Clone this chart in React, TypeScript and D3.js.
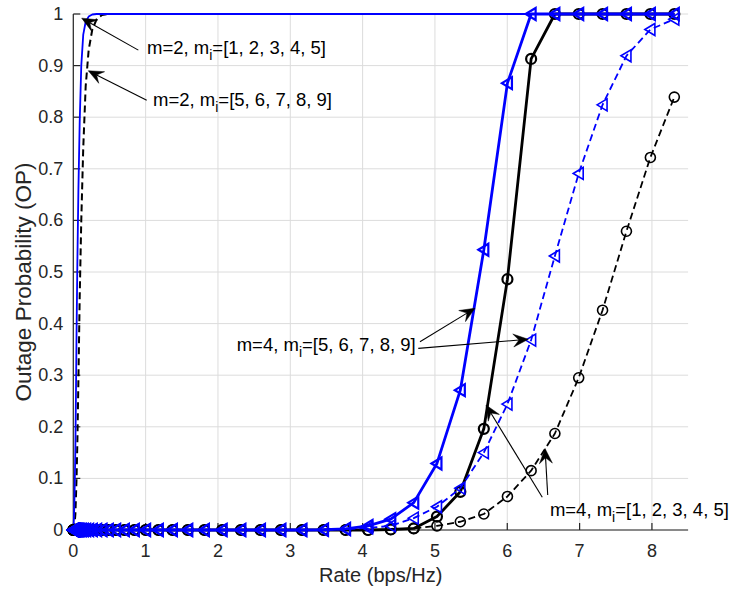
import React from 'react';
import * as d3 from 'd3';

// Rate grid (bps/Hz)
const rates = [
  0.0014, 0.0018, 0.0023, 0.0029, 0.0036, 0.0046, 0.0057, 0.0072, 0.0091, 0.0114,
  0.0144, 0.0181, 0.0227, 0.0285, 0.0358, 0.0449, 0.0563, 0.0706, 0.0883, 0.1103,
  0.1375, 0.1711, 0.2123, 0.2625, 0.3233, 0.3964, 0.4835, 0.5861, 0.7057, 0.8435,
  1.0, 1.1756, 1.3701, 1.5827, 1.8123, 2.0574, 2.3165, 2.5878, 2.8698, 3.1608,
  3.4594, 3.7644, 4.0746, 4.3891, 4.707, 5.0278, 5.3509, 5.6758, 6.0022, 6.3297,
  6.6582, 6.9875, 7.3173, 7.6476, 7.9784, 8.3094,
];

// m=2 curves (no markers)
const opM2Blue = [
  0, 0.001, 0.002, 0.003, 0.005, 0.008, 0.012, 0.018, 0.026, 0.036,
  0.05, 0.075, 0.11, 0.16, 0.25, 0.38, 0.52, 0.66, 0.79, 0.9,
  0.96, 0.985, 0.995, 0.999, 1, 1, 1, 1, 1, 1,
  1, 1, 1, 1, 1, 1, 1, 1, 1, 1,
  1, 1, 1, 1, 1, 1, 1, 1, 1, 1,
  1, 1, 1, 1, 1, 1,
];
const opM2BlackDashed = [
  0, 0, 0, 0, 0.001, 0.001, 0.002, 0.003, 0.004, 0.006,
  0.008, 0.012, 0.02, 0.03, 0.06, 0.1, 0.17, 0.29, 0.45, 0.6,
  0.74, 0.86, 0.93, 0.97, 0.99, 0.998, 1, 1, 1, 1,
  1, 1, 1, 1, 1, 1, 1, 1, 1, 1,
  1, 1, 1, 1, 1, 1, 1, 1, 1, 1,
  1, 1, 1, 1, 1, 1,
];

// m=4 curves (with markers)
const opM4BlueSolid = [
  0, 0, 0, 0, 0, 0, 0, 0, 0, 0,
  0, 0, 0, 0, 0, 0, 0, 0, 0, 0,
  0, 0, 0, 0, 0, 0, 0, 0, 0, 0,
  0, 0, 0, 0, 0, 0, 0, 0, 0, 0,
  0.0005, 0.002, 0.008, 0.021, 0.053, 0.129, 0.271, 0.543, 0.866, 1,
  1, 1, 1, 1, 1, 1,
];
const opM4BlackSolid = [
  0, 0, 0, 0, 0, 0, 0, 0, 0, 0,
  0, 0, 0, 0, 0, 0, 0, 0, 0, 0,
  0, 0, 0, 0, 0, 0, 0, 0, 0, 0,
  0, 0, 0, 0, 0, 0, 0, 0, 0, 0,
  0, 0, 0, 0.001, 0.003, 0.026, 0.074, 0.196, 0.486, 0.913,
  1, 1, 1, 1, 1, 1,
];
const opM4BlueDashed = [
  0, 0, 0, 0, 0, 0, 0, 0, 0, 0,
  0, 0, 0, 0, 0, 0, 0, 0, 0, 0,
  0, 0, 0, 0, 0, 0, 0, 0, 0, 0,
  0, 0, 0, 0, 0, 0, 0, 0, 0, 0,
  0.0005, 0.002, 0.004, 0.008, 0.023, 0.045, 0.081, 0.15, 0.244, 0.368,
  0.531, 0.691, 0.824, 0.919, 0.97, 0.99,
];
const opM4BlackDashed = [
  0, 0, 0, 0, 0, 0, 0, 0, 0, 0,
  0, 0, 0, 0, 0, 0, 0, 0, 0, 0,
  0, 0, 0, 0, 0, 0, 0, 0, 0, 0,
  0, 0, 0, 0, 0, 0, 0, 0, 0, 0,
  0, 0, 0, 0.001, 0.003, 0.008, 0.016, 0.031, 0.065, 0.115,
  0.187, 0.295, 0.426, 0.579, 0.722, 0.839,
];

const xTicks = [0, 1, 2, 3, 4, 5, 6, 7, 8];
const yTicks = [0, 0.1, 0.2, 0.3, 0.4, 0.5, 0.6, 0.7, 0.8, 0.9, 1];
const yTickLabels = ['0', '0.1', '0.2', '0.3', '0.4', '0.5', '0.6', '0.7', '0.8', '0.9', '1'];

const xLabel = 'Rate (bps/Hz)';
const yLabel = 'Outage Probability (OP)';

const annoLabels = [
  { pre: 'm=2, m', sub: 'i', post: '=[1, 2, 3, 4, 5]' },
  { pre: 'm=2, m', sub: 'i', post: '=[5, 6, 7, 8, 9]' },
  { pre: 'm=4, m', sub: 'i', post: '=[5, 6, 7, 8, 9]' },
  { pre: 'm=4, m', sub: 'i', post: '=[1, 2, 3, 4, 5]' },
];

const W = 732;
const H = 594;
const FONT = '"Liberation Sans", Arial, Helvetica, sans-serif';
const AXC = '#262626';

function triPath(cx: number, cy: number) {
  return `M${cx - 5.5},${cy} L${cx + 4.5},${cy - 6} L${cx + 4.5},${cy + 6} Z`;
}

function Arrow({ x1, y1, x2, y2 }: { x1: number; y1: number; x2: number; y2: number }) {
  const dx = x2 - x1;
  const dy = y2 - y1;
  const len = Math.hypot(dx, dy);
  const ux = dx / len;
  const uy = dy / len;
  const nx = -uy;
  const ny = ux;
  const L = 15;
  const hw = 6.5;
  const notch = 0.62 * L;
  const bx = x2 - L * ux;
  const by = y2 - L * uy;
  const mx = x2 - notch * ux;
  const my = y2 - notch * uy;
  const head = `M${x2},${y2} L${bx + hw * nx},${by + hw * ny} L${mx},${my} L${bx - hw * nx},${by - hw * ny} Z`;
  return (
    <g>
      <line x1={x1} y1={y1} x2={mx} y2={my} stroke="#000" strokeWidth={1.1} />
      <path d={head} fill="#000" stroke="#000" strokeWidth={0.5} />
    </g>
  );
}

export default function App() {
  const left = 73.3;
  const top = 14;
  const bottom = 530;
  const right = 688.1;
  const x = d3.scaleLinear().domain([0, 8.5]).range([left, right]);
  const y = d3.scaleLinear().domain([0, 1]).range([bottom, top]);

  const mk = (vals: number[]) =>
    d3
      .line<number>()
      .x((_, i) => x(rates[i]))
      .y((v) => y(v))(vals) || '';

  const series = [
    { vals: opM2BlackDashed, color: '#000', w: 2, dash: '7,4', marker: null },
    { vals: opM2Blue, color: '#0000ff', w: 1.8, dash: null, marker: null },
    { vals: opM4BlackSolid, color: '#000', w: 2.8, dash: null, marker: 'circle' },
    { vals: opM4BlackDashed, color: '#000', w: 1.8, dash: '7,4', marker: 'circle' },
    { vals: opM4BlueDashed, color: '#0000ff', w: 1.8, dash: '7,4', marker: 'tri' },
    { vals: opM4BlueSolid, color: '#0000ff', w: 2.8, dash: null, marker: 'tri' },
  ];

  const annos = [
    { tx: 1.019, ty: 0.934, arrows: [[0.899, 0.93, 0.116, 0.992]] },
    { tx: 1.102, ty: 0.833, arrows: [[1.015, 0.833, 0.207, 0.89]] },
    { tx: 2.259, ty: 0.3585, arrows: [[4.793, 0.365, 5.553, 0.4297], [4.77, 0.352, 6.29, 0.3696]] },
    { tx: 6.589, ty: 0.0388, arrows: [[6.484, 0.0634, 5.706, 0.2422], [6.559, 0.0678, 6.522, 0.158]] },
  ];

  return (
    <svg
      width={W}
      height={H}
      style={{ position: 'absolute', left: 0, top: 0, background: '#fff' }}
      fontFamily={FONT}
    >
      <rect x={0} y={0} width={W} height={H} fill="#fff" />
      {/* grid */}
      <g stroke="#dcdcdc" strokeWidth={1}>
        {xTicks.map((t) => (
          <line key={'gx' + t} x1={x(t)} x2={x(t)} y1={top} y2={bottom} />
        ))}
        {yTicks.map((t) => (
          <line key={'gy' + t} x1={left} x2={right} y1={y(t)} y2={y(t)} />
        ))}
      </g>
      {/* axes */}
      <g stroke={AXC} strokeWidth={1.2}>
        <line x1={left} x2={left} y1={top} y2={bottom} />
        <line x1={left} x2={right} y1={bottom} y2={bottom} />
        {xTicks.map((t) => (
          <line key={'tx' + t} x1={x(t)} x2={x(t)} y1={bottom} y2={bottom - 7} />
        ))}
        {yTicks.map((t) => (
          <line key={'ty' + t} x1={left} x2={left + 7} y1={y(t)} y2={y(t)} />
        ))}
      </g>
      <g fill={AXC} fontSize={18}>
        {xTicks.map((t) => (
          <text key={'lx' + t} x={x(t)} y={bottom + 21} textAnchor="middle" dominantBaseline="central">
            {String(t)}
          </text>
        ))}
        {yTicks.map((t, i) => (
          <text key={'ly' + t} x={left - 10} y={y(t)} textAnchor="end" dominantBaseline="central">
            {yTickLabels[i]}
          </text>
        ))}
      </g>
      <text x={(left + right) / 2} y={575} textAnchor="middle" dominantBaseline="central" fontSize={20} fill={AXC}>
        {xLabel}
      </text>
      <text
        transform={`translate(31,282) rotate(-90)`}
        textAnchor="middle"
        fontSize={22.5}
        fill={AXC}
      >
        {yLabel}
      </text>
      {/* series */}
      {series.map((s, si) => (
        <g key={'s' + si}>
          <path
            d={mk(s.vals)}
            fill="none"
            stroke={s.color}
            strokeWidth={s.w}
            strokeDasharray={s.dash || undefined}
            strokeLinejoin="round"
          />
          {s.marker === 'circle' &&
            s.vals.map((v, i) => (
              <circle key={i} cx={x(rates[i])} cy={y(v)} r={5} fill="none" stroke={s.color} strokeWidth={s.w > 2 ? 2.2 : 1.6} />
            ))}
          {s.marker === 'tri' &&
            s.vals.map((v, i) => (
              <path key={i} d={triPath(x(rates[i]), y(v))} fill="none" stroke={s.color} strokeWidth={s.w > 2 ? 2.2 : 1.6} strokeLinejoin="miter" />
            ))}
        </g>
      ))}
      {/* annotations */}
      {annos.map((a, ai) => (
        <g key={'a' + ai}>
          {a.arrows.map((ar, k) => (
            <Arrow key={k} x1={x(ar[0])} y1={y(ar[1])} x2={x(ar[2])} y2={y(ar[3])} />
          ))}
          <text x={x(a.tx)} y={y(a.ty) + 6} fontSize={18.5} fill="#000">
            <tspan>{annoLabels[ai].pre}</tspan>
            <tspan dy={6} fontSize={14}>{annoLabels[ai].sub}</tspan>
            <tspan dy={-6}>{annoLabels[ai].post}</tspan>
          </text>
        </g>
      ))}
    </svg>
  );
}
